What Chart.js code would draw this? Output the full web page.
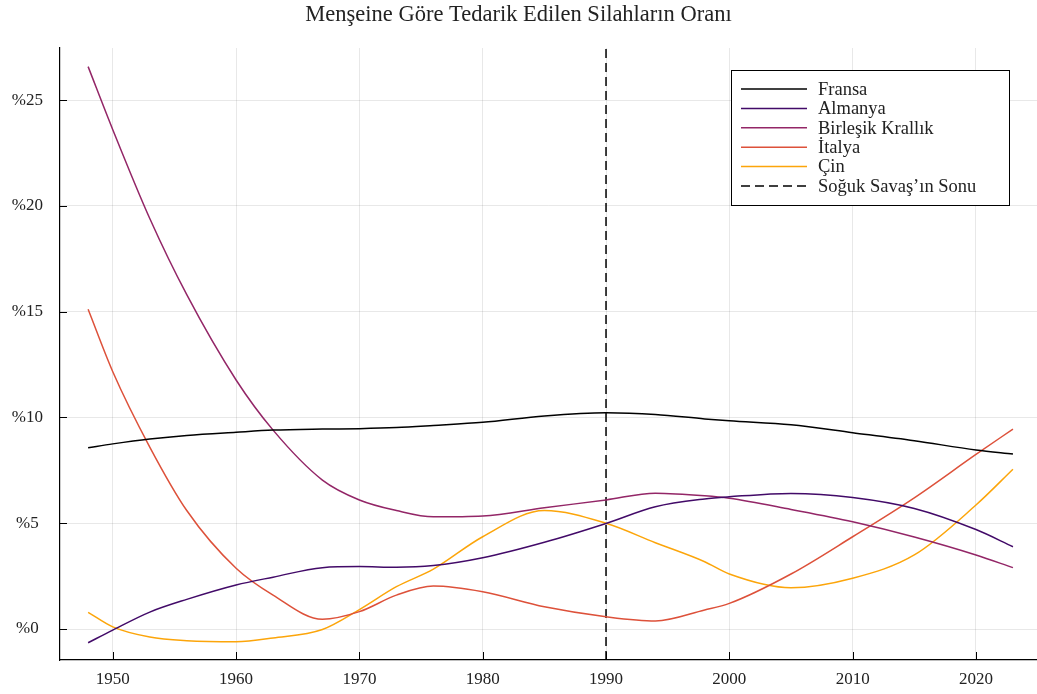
<!DOCTYPE html>
<html>
<head>
<meta charset="utf-8">
<script src="https://cdn.jsdelivr.net/npm/chart.js@4/dist/chart.umd.min.js"></script>
<style>
	body { margin: 0; background: #fff; }
	canvas { display: block; }
</style>
</head>
<body>
<canvas id="silahChart" width="1037" height="694"></canvas>
<script>
const years = [1948, 1950, 1953, 1956, 1960, 1963, 1967, 1970, 1973, 1976, 1980, 1985, 1990, 1994, 1998, 2000, 2005, 2010, 2015, 2020, 2023]

const fransa = [8.57, 8.75, 8.98, 9.15, 9.3, 9.4, 9.45, 9.47, 9.52, 9.62, 9.77, 10.07, 10.22, 10.14, 9.93, 9.84, 9.65, 9.28, 8.9, 8.46, 8.27]
const almanya = [-0.65, -0.05, 0.8, 1.4, 2.08, 2.45, 2.9, 2.95, 2.92, 3.0, 3.37, 4.1, 4.99, 5.78, 6.15, 6.25, 6.41, 6.22, 5.7, 4.7, 3.89]
const birlesikKrallik = [26.58, 23.6, 19.4, 15.8, 11.77, 9.4, 7.04, 6.1, 5.6, 5.3, 5.34, 5.73, 6.1, 6.42, 6.3, 6.18, 5.65, 5.07, 4.35, 3.5, 2.9]
const italya = [15.11, 12.16, 8.6, 5.6, 2.87, 1.6, 0.46, 0.82, 1.6, 2.03, 1.76, 1.05, 0.58, 0.38, 0.9, 1.21, 2.6, 4.36, 6.2, 8.25, 9.45]
const cin = [0.79, 0.1, -0.38, -0.55, -0.6, -0.42, -0.02, 0.92, 2.0, 2.83, 4.36, 5.6, 5.0, 4.08, 3.18, 2.6, 1.95, 2.4, 3.5, 5.86, 7.55]

const sogukSavasYili = 1990
const xTicks = [1950, 1960, 1970, 1980, 1990, 2000, 2010, 2020]
const yTicks = [0, 5, 10, 15, 20, 25]

const yMin = -1.465
const yMax = 27.46
const fontAile = "'Liberation Serif', 'DejaVu Serif', serif"

function seri(values) {
	return years.map((y, i) => ({ x: y, y: values[i] }))
}

function hat(label, values, color) {
	return {
		label: label,
		data: seri(values),
		borderColor: color,
		backgroundColor: color,
		borderWidth: 1.5,
		pointRadius: 0,
		cubicInterpolationMode: 'monotone',
		fill: false
	}
}

// ticks drawn inside the plot, legend box in the upper right
const icTikler = {
	id: 'icTikler',
	afterDatasetsDraw(chart) {
		const c = chart.ctx
		const xs = chart.scales.x
		const ys = chart.scales.y
		const area = chart.chartArea
		c.save()
		c.strokeStyle = '#000'
		c.lineWidth = 1
		c.beginPath()
		xTicks.forEach(t => {
			const px = Math.round(xs.getPixelForValue(t)) + 0.5
			c.moveTo(px, area.bottom)
			c.lineTo(px, area.bottom - 8)
		})
		yTicks.forEach(t => {
			const py = Math.round(ys.getPixelForValue(t)) + 0.5
			c.moveTo(area.left, py)
			c.lineTo(area.left + 7, py)
		})
		c.stroke()
		c.restore()
	},
	afterDraw(chart) {
		const c = chart.ctx
		const x0 = 731, y0 = 70, w = 278, h = 135
		c.save()
		c.fillStyle = '#fff'
		c.fillRect(x0, y0, w, h)
		c.strokeStyle = '#000'
		c.lineWidth = 1
		c.strokeRect(x0 + 0.5, y0 + 0.5, w, h)
		c.font = "18.5px " + fontAile
		c.textBaseline = 'middle'
		chart.data.datasets.forEach((ds, i) => {
			const yy = 89 + i * 19.4
			c.beginPath()
			c.strokeStyle = ds.borderColor
			c.lineWidth = 1.5
			c.setLineDash(ds.borderDash || [])
			c.moveTo(741, yy)
			c.lineTo(807, yy)
			c.stroke()
			c.setLineDash([])
			c.fillStyle = '#222'
			c.fillText(ds.label, 818, yy + 1)
		})
		c.restore()
	}
}

const ctx = document.getElementById('silahChart')

const chart = new Chart(ctx, {
	type: 'line',
	data: {
		datasets: [
			hat('Fransa', fransa, '#000000'),
			hat('Almanya', almanya, '#420a68'),
			hat('Birleşik Krallık', birlesikKrallik, '#932667'),
			hat('İtalya', italya, '#dd513a'),
			hat('Çin', cin, '#fca50a'),
			{
				label: 'Soğuk Savaş\u2019ın Sonu',
				data: [{ x: sogukSavasYili, y: yMin }, { x: sogukSavasYili, y: yMax }],
				borderColor: '#000000',
				borderWidth: 1.5,
				borderDash: [9, 5],
				pointRadius: 0,
				fill: false
			}
		]
	},
	options: {
		responsive: false,
		animation: false,
		devicePixelRatio: 1,
		layout: { padding: { left: 0, right: 0, top: 0, bottom: 0 } },
		plugins: {
			legend: { display: false },
			tooltip: { enabled: false },
			title: {
				display: true,
				text: 'Menşeine Göre Tedarik Edilen Silahların Oranı',
				color: '#222',
				font: { family: fontAile, size: 22.5, weight: 'normal' },
				padding: { top: 2, bottom: 19 }
			}
		},
		scales: {
			x: {
				type: 'linear',
				min: 1945.72,
				max: 2024.95,
				afterBuildTicks: (scale) => { scale.ticks = xTicks.map(v => ({ value: v })) },
				afterFit: (scale) => { scale.height = 34 },
				grid: { color: 'rgba(0,0,0,0.09)', drawTicks: false },
				border: { color: '#000', width: 1.2 },
				ticks: {
					padding: 9,
					maxRotation: 0,
					color: '#222',
					font: { family: fontAile, size: 17 },
					callback: (v) => String(v)
				}
			},
			y: {
				type: 'linear',
				min: yMin,
				max: yMax,
				afterBuildTicks: (scale) => { scale.ticks = yTicks.map(v => ({ value: v })) },
				afterFit: (scale) => { scale.width = 60 },
				grid: { color: 'rgba(0,0,0,0.09)', drawTicks: false },
				border: { color: '#000', width: 1.2 },
				ticks: {
					padding: 17,
					crossAlign: 'center',
					color: '#222',
					font: { family: fontAile, size: 17 },
					callback: (v) => '%' + v
				}
			}
		}
	},
	plugins: [icTikler]
})
</script>
</body>
</html>
